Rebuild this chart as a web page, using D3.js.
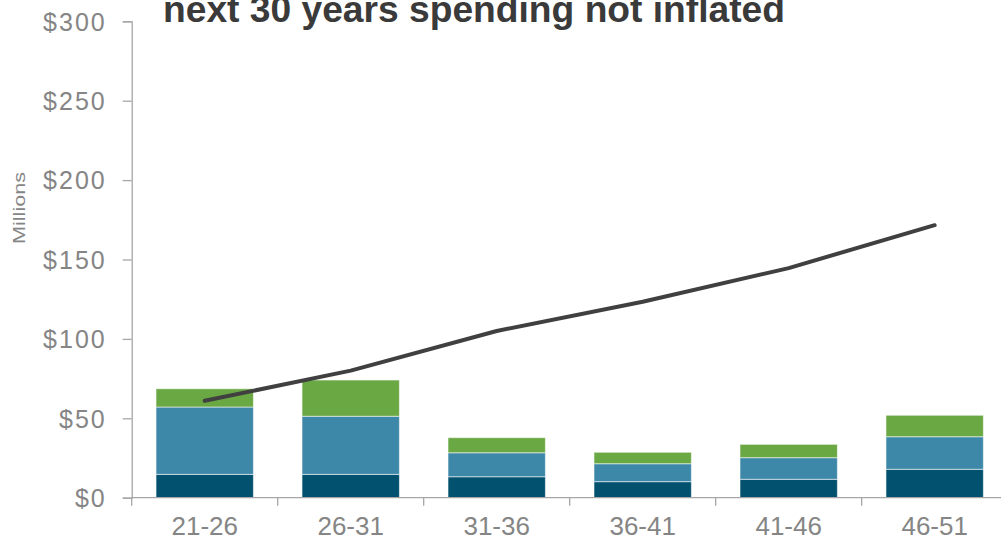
<!DOCTYPE html>
<html>
<head>
<meta charset="utf-8">
<script src="https://cdn.jsdelivr.net/npm/d3@7"></script>
<style>
  html, body { margin: 0; padding: 0; background: #fff; }
  svg { display: block; }
  text { font-family: "Liberation Sans", Arial, Helvetica, sans-serif; }
</style>
</head>
<body>
<svg id="chart" width="1001" height="542"></svg>
<script>
const categories = ["21-26", "26-31", "31-36", "36-41", "41-46", "46-51"];
const seriesNames = ["Dark", "Blue", "Green"];
const darkValues  = [14.7, 14.7, 13.2, 10.1, 11.6, 17.9];
const blueValues  = [42.4, 36.6, 15.1, 11.3, 13.6, 20.5];
const greenValues = [11.5, 22.8, 9.5, 7.2, 8.4, 13.5];
const lineValues  = [61, 80, 105, 123.4, 144.6, 171.6];
const yTicks = [0, 50, 100, 150, 200, 250, 300];
const titleText = "next 30 years spending not inflated";
const yAxisTitle = "Millions";

const colors = ["#02516e", "#3d87a8", "#6aa843"];

const svg = d3.select("#chart");
const W = 1001, H = 542;
const x0 = 131.7, x1 = 1007.7, yBottom = 497.7, yTop = 21.3;

const x = d3.scaleBand().domain(categories).range([x0, x1]).paddingInner(0.333).paddingOuter(0.1667);
const y = d3.scaleLinear().domain([0, 300]).range([yBottom, yTop]);

const table = categories.map((c, i) => ({cat: c, Dark: darkValues[i], Blue: blueValues[i], Green: greenValues[i]}));
const stacked = d3.stack().keys(seriesNames)(table);

// bars
svg.append("g").selectAll("g").data(stacked).join("g")
  .attr("fill", (d, i) => colors[i])
  .selectAll("rect").data(d => d).join("rect")
  .attr("x", d => x(d.data.cat))
  .attr("width", x.bandwidth())
  .attr("y", d => y(d[1]))
  .attr("height", d => y(d[0]) - y(d[1]))
  .attr("stroke", "rgba(255,255,255,0.55)")
  .attr("stroke-width", 1);

// y axis
const yAxis = svg.append("g").attr("transform", `translate(${x0},0)`)
  .call(d3.axisLeft(y).tickValues(yTicks).tickSize(9).tickPadding(16).tickFormat(d => "$" + d));
yAxis.select(".domain").attr("stroke", "#a6a6a6").attr("stroke-width", 1.3);
yAxis.selectAll(".tick line").attr("stroke", "#a6a6a6").attr("stroke-width", 1.3);
yAxis.selectAll(".tick text").attr("fill", "#858585").attr("font-size", 25)
  .attr("font-family", "Liberation Sans, Arial, sans-serif")
  .attr("letter-spacing", 2).attr("dy", "0.35em");

// x axis
const xBoundaries = categories.map(c => x(c) - x.step() * x.paddingOuter()).concat([x1]);
const xAxisG = svg.append("g");
xAxisG.append("line").attr("x1", x0).attr("x2", W).attr("y1", yBottom).attr("y2", yBottom)
  .attr("stroke", "#a6a6a6").attr("stroke-width", 1.3);
xAxisG.selectAll("line.tk").data(xBoundaries).join("line").attr("class", "tk")
  .attr("x1", d => d).attr("x2", d => d).attr("y1", yBottom).attr("y2", yBottom + 8)
  .attr("stroke", "#a6a6a6").attr("stroke-width", 1.3);
xAxisG.selectAll("text").data(categories).join("text")
  .attr("x", d => x(d) + x.bandwidth() / 2)
  .attr("y", 535)
  .attr("text-anchor", "middle")
  .attr("fill", "#858585").attr("font-size", 26)
  .text(d => d);

// line
const line = d3.line().x((d, i) => x(categories[i]) + x.bandwidth() / 2).y(d => y(d));
svg.append("path").datum(lineValues)
  .attr("d", line)
  .attr("fill", "none")
  .attr("stroke", "#404040")
  .attr("stroke-width", 4)
  .attr("stroke-linecap", "round")
  .attr("stroke-linejoin", "round");

// y axis title
svg.append("text")
  .attr("transform", "translate(25,208) rotate(-90)")
  .attr("text-anchor", "middle")
  .attr("fill", "#858585")
  .attr("font-size", 17)
  .attr("textLength", 72)
  .attr("lengthAdjust", "spacingAndGlyphs")
  .text(yAxisTitle);

// title
svg.append("text")
  .attr("x", 163).attr("y", 22)
  .attr("fill", "#3a3a3a")
  .attr("font-size", 36)
  .attr("font-weight", "bold")
  .attr("textLength", 622)
  .attr("lengthAdjust", "spacingAndGlyphs")
  .text(titleText);
</script>
</body>
</html>
